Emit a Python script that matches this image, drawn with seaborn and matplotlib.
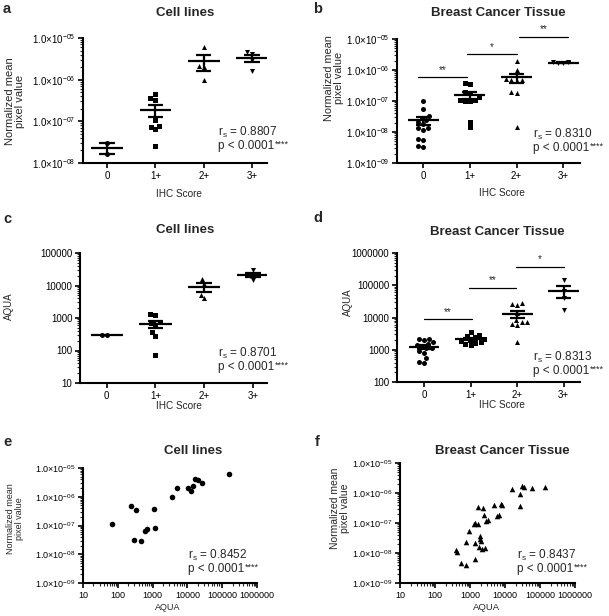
import numpy as np
import pandas as pd
import matplotlib
matplotlib.use("Agg")
import matplotlib.pyplot as plt
import matplotlib.ticker as mticker
import seaborn as sns

# ---------------- data ----------------
cats = ["0", "1+", "2+", "3+"]

# a: cell lines, normalized mean pixel value by IHC score
a_g0 = [3.0e-8, 1.65e-8]
a_g1 = [3.6e-7, 3.3e-7, 4.6e-7, 1.1e-7, 7.3e-8, 6.5e-8, 7.9e-8, 2.6e-8]
a_g2 = [6.1e-6, 2.1e-6, 2.0e-6, 0.96e-6]
a_g3 = [4.2e-6, 4.5e-6, 2.9e-6, 1.65e-6]

# b: breast cancer tissue, normalized mean pixel value
b_g0 = [1.0e-7, 5.5e-8, 3.3e-8, 2.8e-8, 2.4e-8, 2.1e-8, 1.8e-8, 1.3e-8, 1.3e-8,
        1.2e-8, 5.8e-9, 5.5e-9, 3.5e-9, 3.3e-9]
b_g1 = [3.9e-7, 3.5e-7, 2.0e-7, 1.8e-7, 1.3e-7, 1.1e-7, 1.05e-7, 1.0e-7, 1.0e-7,
        2.1e-8, 1.4e-8]
b_g2 = [1.9e-6, 1.0e-6, 5.0e-7, 4.8e-7, 4.7e-7, 4.5e-7, 2.0e-7, 1.8e-7, 1.5e-8]
b_g3 = [1.85e-6, 1.65e-6, 1.65e-6, 1.8e-6]

# c: cell lines, AQUA
c_g0 = [300, 300]
c_g1 = [1300, 1250, 750, 700, 600, 360, 280, 75]
c_g2 = [16000, 11500, 5200, 4000]
c_g3 = [29000, 21000, 20000, 15000]

# d: breast cancer tissue, AQUA
d_g0 = [2200, 2100, 2000, 1700, 1550, 1400, 1300, 1150, 1100, 900, 800, 550, 420, 400]
d_g1 = [3500, 2900, 2600, 2400, 2200, 2000, 1900, 1700, 1600, 1500, 1400]
d_g2 = [28000, 26000, 24000, 14000, 8500, 7500, 7000, 6500, 6000, 1800]
d_g3 = [150000, 65000, 40000, 17000]

# e: cell lines, AQUA vs normalized mean pixel value
e_aqua = [67, 240, 325, 290, 470, 600, 675, 1100, 1150, 3600, 4900, 10300,
          12300, 14400, 16200, 20000, 26000, 160000]
e_npv = [1.12e-7, 4.9e-7, 3.55e-7, 3.2e-8, 2.8e-8, 6.7e-8, 7.6e-8, 3.7e-7, 8.3e-8,
         9.8e-7, 2.04e-6, 2.0e-6, 1.54e-6, 2.3e-6, 4.2e-6, 3.9e-6, 3.0e-6, 6.2e-6]

# f: breast cancer tissue, AQUA vs normalized mean pixel value
f_aqua = [16200, 31000, 35000, 60000, 135000, 26000, 27500, 1700, 2350, 4850,
          7800, 8300, 2500, 6000, 6700, 3250, 2950, 1400, 1700, 1300, 910, 1900,
          1980, 2030, 780, 1350, 1780, 2200, 2640, 405, 425, 540, 780, 1400]
f_npv = [1.36e-6, 1.66e-6, 1.58e-6, 1.43e-6, 1.58e-6, 9.3e-7, 3.6e-7, 3.4e-7,
         3.1e-7, 4.1e-7, 4.3e-7, 3.9e-7, 1.9e-7, 1.75e-7, 1.9e-7, 1.29e-7, 1.2e-7,
         1.0e-7, 9.5e-8, 9.5e-8, 5.5e-8, 3.6e-8, 3.0e-8, 2.6e-8, 2.3e-8, 2.15e-8,
         1.55e-8, 1.39e-8, 1.47e-8, 1.29e-8, 1.07e-8, 4.7e-9, 3.9e-9, 6.1e-9]

# statistics text
a_stats = ("0.8807", "0.0001")
b_stats = ("0.8310", "0.0001")
c_stats = ("0.8701", "0.0001")
d_stats = ("0.8313", "0.0001")
e_stats = ("0.8452", "0.0001")
f_stats = ("0.8437", "0.0001")

# significance brackets: (x start, x end, level, label)
b_sig = [(-0.1, 0.93, 5.9e-7, "**"), (0.95, 2.0, 3.3e-6, "*"), (2.05, 3.1, 1.2e-5, "**")]
d_sig = [(0.0, 1.03, 8700, "**"), (0.96, 1.98, 85000, "**"), (1.98, 3.0, 380000, "*")]

# ---------------- style ----------------
sns.set_style("ticks")
plt.rcParams["font.family"] = ["Liberation Sans", "DejaVu Sans"]
plt.rcParams["mathtext.fontset"] = "custom"
plt.rcParams["mathtext.rm"] = "Liberation Sans"
plt.rcParams["mathtext.it"] = "Liberation Sans:italic"
plt.rcParams["mathtext.bf"] = "Liberation Sans:bold"
plt.rcParams["mathtext.default"] = "regular"

W, H = 609, 616
fig = plt.figure(figsize=(W / 100, H / 100), dpi=100)
fig.patch.set_facecolor("white")


def px_axes(l, t, r, b):
    return fig.add_axes([l / W, 1 - b / H, (r - l) / W, (b - t) / H])


def ftext(x, y, s, **kw):
    return fig.text(x / W, 1 - y / H, s, **kw)


def sci_fmt(v, pos):
    e = int(round(np.log10(v)))
    return "1.0×10$^{-%02d}$" % abs(e)


def style_axes(ax, tick_fs):
    for sp in ["top", "right"]:
        ax.spines[sp].set_visible(False)
    for sp in ["left", "bottom"]:
        ax.spines[sp].set_linewidth(1.5)
        ax.spines[sp].set_color("black")
    ax.tick_params(which="major", direction="out", length=3.5, width=1.2,
                   labelsize=tick_fs, colors="black", pad=2)
    ax.tick_params(which="minor", direction="out", length=2, width=0.8)
    ax.set_xlabel("")
    ax.set_ylabel("")
    ax.set_facecolor("white")


markers = ["o", "s", "^", "v"]


def dot_panel(ax, groups, ylim, xlim, tick_fs, sci):
    ax.set_yscale("log")
    ax.set_ylim(*ylim)
    for c, vals, m in zip(cats, groups, markers):
        df = pd.DataFrame({"score": c, "value": vals})
        sns.swarmplot(data=df, x="score", y="value", order=cats, marker=m,
                      color="black", size=3.6, log_scale=True, ax=ax)
    # mean and SEM computed from the data
    for i, vals in enumerate(groups):
        v = np.asarray(vals, dtype=float)
        mean = v.mean()
        sem = v.std(ddof=1) / np.sqrt(len(v)) if len(v) > 1 else 0.0
        ax.hlines(mean, i - 0.33, i + 0.33, color="black", lw=1.6, zorder=5)
        if sem > 0:
            ax.vlines(i, mean - sem, mean + sem, color="black", lw=1.6, zorder=5)
            ax.hlines([mean - sem, mean + sem], i - 0.16, i + 0.16, color="black",
                      lw=1.6, zorder=5)
    ax.set_ylim(*ylim)
    ax.set_xlim(*xlim)
    ax.set_xticks(range(len(cats)))
    ax.set_xticklabels(cats)
    style_axes(ax, tick_fs)
    ax.yaxis.set_major_locator(mticker.LogLocator(base=10, numticks=10))
    ax.yaxis.set_minor_locator(mticker.LogLocator(base=10, subs=np.arange(2, 10), numticks=20))
    ax.yaxis.set_minor_formatter(mticker.NullFormatter())
    if sci:
        ax.yaxis.set_major_formatter(mticker.FuncFormatter(sci_fmt))
    else:
        ax.yaxis.set_major_formatter(mticker.FuncFormatter(lambda v, p: "%d" % round(v)))


def scatter_panel(ax, xs, ys, marker, tick_fs):
    df = pd.DataFrame({"aqua": xs, "npv": ys})
    ax.set_xscale("log")
    ax.set_yscale("log")
    sns.scatterplot(data=df, x="aqua", y="npv", marker=marker, color="black",
                    s=16, linewidth=0, ax=ax)
    ax.set_xlim(10, 1e6)
    ax.set_ylim(1e-9, 1e-5)
    style_axes(ax, tick_fs)
    ax.xaxis.set_major_locator(mticker.LogLocator(base=10, numticks=10))
    ax.xaxis.set_minor_locator(mticker.LogLocator(base=10, subs=np.arange(2, 10), numticks=20))
    ax.xaxis.set_major_formatter(mticker.FuncFormatter(lambda v, p: "%d" % round(v)))
    ax.xaxis.set_minor_formatter(mticker.NullFormatter())
    ax.yaxis.set_major_locator(mticker.LogLocator(base=10, numticks=10))
    ax.yaxis.set_minor_locator(mticker.LogLocator(base=10, subs=np.arange(2, 10), numticks=20))
    ax.yaxis.set_major_formatter(mticker.FuncFormatter(sci_fmt))
    ax.yaxis.set_minor_formatter(mticker.NullFormatter())


def sig(ax, items):
    for x0, x1, y, lab in items:
        ax.plot([x0, x1], [y, y], color="black", lw=0.9, clip_on=False)
        ax.annotate(lab, xy=((x0 + x1) / 2, y), xytext=(0, 1.5), textcoords="offset points",
                    ha="center", va="bottom", fontsize=7, annotation_clip=False)


def stats(ax, x, y, st, fs=8.5):
    ftext(x, y, "r$_{s}$ = %s" % st[0], fontsize=fs, ha="left", va="center")
    t = ftext(x, y + 14, "p < %s" % st[1], fontsize=fs, ha="left", va="center")
    ax.annotate("****", xy=(1.0, 1.05), xycoords=t, xytext=(0.3, 0),
                textcoords="offset points", ha="left", va="top", fontsize=6.5,
                annotation_clip=False)


# ---------------- panels ----------------
ax_a = px_axes(83, 38, 267, 163)
dot_panel(ax_a, [a_g0, a_g1, a_g2, a_g3], (1e-8, 1e-5), (-0.5, 3.31), 7, True)

ax_b = px_axes(397, 39, 580, 163)
dot_panel(ax_b, [b_g0, b_g1, b_g2, b_g3], (1e-9, 1e-5), (-0.56, 3.36), 7, True)
sig(ax_b, b_sig)

ax_c = px_axes(80, 253, 267, 383)
dot_panel(ax_c, [c_g0, c_g1, c_g2, c_g3], (10, 1e5), (-0.55, 3.29), 7, False)

ax_d = px_axes(397, 253, 580, 382)
dot_panel(ax_d, [d_g0, d_g1, d_g2, d_g3], (100, 1e6), (-0.58, 3.35), 7, False)
sig(ax_d, d_sig)

ax_e = px_axes(83, 468, 257, 583)
scatter_panel(ax_e, e_aqua, e_npv, "o", 6.5)

ax_f = px_axes(400, 463, 575, 583)
scatter_panel(ax_f, f_aqua, f_npv, "^", 6.5)

# ---------------- texts ----------------
letter_kw = dict(fontsize=10.5, fontweight="bold", ha="left", va="center")
ftext(3, 9, "a", **letter_kw)
ftext(313, 9, "b", **letter_kw)
ftext(3, 219, "c", **letter_kw)
ftext(313, 218, "d", **letter_kw)
ftext(3, 442, "e", **letter_kw)
ftext(315, 442, "f", **letter_kw)

title_kw = dict(fontsize=9.5, fontweight="bold", ha="center", va="center")
ftext(185, 13, "Cell lines", **title_kw)
ftext(498, 13, "Breast Cancer Tissue", **title_kw)
ftext(185, 230, "Cell lines", **title_kw)
ftext(497, 232, "Breast Cancer Tissue", **title_kw)
ftext(193, 451, "Cell lines", **title_kw)
ftext(502, 451, "Breast Cancer Tissue", **title_kw)

xl_kw = dict(fontsize=7.2, ha="center", va="center")
ftext(179, 194, "IHC Score", **xl_kw)
ftext(502, 193, "IHC Score", **xl_kw)
ftext(179, 406, "IHC Score", **xl_kw)
ftext(502, 405, "IHC Score", **xl_kw)
ftext(168, 607, "AQUA", fontsize=6.5, ha="center", va="center")
ftext(487, 607, "AQUA", fontsize=6.8, ha="center", va="center")

yl_kw = dict(rotation=90, ha="center", va="center", linespacing=1.1)
ftext(15, 101, "Normalized mean\npixel value", fontsize=8, **yl_kw)
ftext(334, 78, "Normalized mean\npixel value", fontsize=7.8, **yl_kw)
ftext(9, 306, "AQUA", fontsize=7, **yl_kw)
ftext(348, 302, "AQUA", fontsize=7, **yl_kw)
ftext(15, 519, "Normalized mean\npixel value", fontsize=6.5, **yl_kw)
ftext(340, 508, "Normalized mean\npixel value", fontsize=7.5, **yl_kw)

stats(ax_a, 218, 132, a_stats)
stats(ax_b, 533, 134, b_stats)
stats(ax_c, 218, 353, c_stats)
stats(ax_d, 533, 357, d_stats)
stats(ax_e, 188, 555, e_stats)
stats(ax_f, 517, 555, f_stats)

fig.savefig("out.png", dpi=100, facecolor="white")
